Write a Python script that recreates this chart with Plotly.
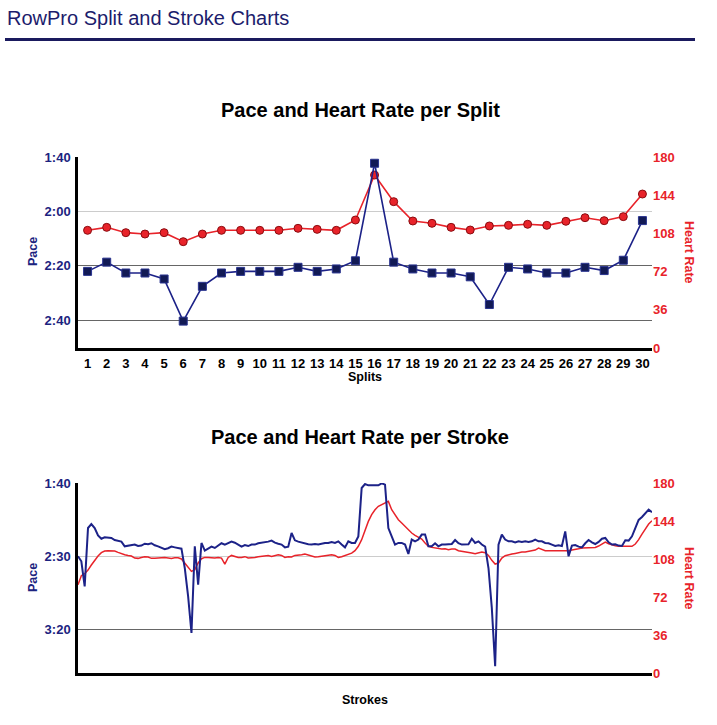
import plotly.graph_objects as go

# ---- per split data (pace in seconds / 500m, heart rate in bpm) ----
SPLITS = [1, 2, 3, 4, 5, 6, 7, 8, 9, 10, 11, 12, 13, 14, 15,
          16, 17, 18, 19, 20, 21, 22, 23, 24, 25, 26, 27, 28, 29, 30]
SPLIT_PACE = [142.1, 138.7, 142.7, 142.7, 144.9, 160.4, 147.6, 142.7, 142.1, 142.1,
              142.1, 140.6, 142.1, 141.2, 138.2, 102.3, 138.7, 141.2, 142.7, 142.7,
              144.1, 154.3, 140.6, 141.2, 142.7, 142.7, 140.6, 141.8, 138.0, 123.4]
SPLIT_HR = [110.9, 113.7, 108.7, 107.4, 108.7, 100.2, 107.4, 110.9, 110.9, 110.9,
            110.9, 112.8, 111.8, 110.9, 120.6, 163.0, 137.9, 119.7, 117.5, 113.7,
            111.2, 115.0, 115.6, 116.6, 115.6, 119.4, 122.8, 120.0, 123.8, 145.1]

# ---- per stroke data ----
STROKE_PACE = [
    150.0, 153.4, 170.5, 130.7, 128.0, 130.7, 135.7, 138.0, 137.0, 137.0,
    137.5, 138.9, 139.5, 140.0, 143.2, 142.7, 142.3, 142.0, 143.0, 142.7,
    141.4, 141.8, 141.1, 142.5, 143.2, 144.3, 145.2, 144.5, 143.4, 143.9,
    144.3, 144.8, 158.0, 177.3, 202.3, 143.2, 169.3, 140.9, 146.1, 144.8,
    143.4, 144.3, 142.5, 141.1, 142.0, 141.1, 140.0, 140.7, 141.8, 143.4,
    142.3, 143.0, 142.0, 142.0, 141.1, 140.9, 140.5, 140.0, 139.3, 140.7,
    141.4, 142.0, 143.9, 143.4, 134.1, 139.1, 140.0, 140.7, 141.6, 141.8,
    142.0, 141.6, 142.0, 141.4, 140.9, 140.9, 140.2, 140.9, 139.8, 142.0,
    143.9, 139.8, 140.9, 140.9, 136.4, 103.4, 100.7, 101.6, 101.6, 101.6,
    101.6, 100.2, 101.1, 130.7, 136.4, 142.0, 140.9, 140.9, 142.0, 148.4,
    138.6, 139.8, 138.6, 135.2, 135.2, 143.2, 143.2, 141.1, 143.2, 142.0,
    142.0, 142.0, 141.6, 138.9, 141.1, 142.0, 142.0, 141.8, 138.0, 140.9,
    139.8, 142.0, 143.4, 158.0, 185.2, 225.0, 142.0, 135.2, 138.6, 139.8,
    139.8, 140.5, 139.8, 140.2, 139.8, 140.2, 139.8, 138.6, 139.8, 139.8,
    140.9, 141.1, 142.0, 143.0, 142.5, 143.0, 133.0, 150.0, 142.7, 142.3,
    143.4, 143.9, 141.1, 138.9, 140.5, 141.6, 140.2, 138.0, 137.5, 140.5,
    142.0, 141.8, 142.7, 143.0, 139.1, 139.3, 136.4, 130.7, 125.2, 123.2,
    120.5, 118.2, 120.0,
]
STROKE_HR = [
    83.6, 92.2, 94.1, 97.5, 102.3, 107.0, 110.8, 114.0, 115.5, 115.9,
    115.9, 115.5, 114.3, 113.0, 112.1, 111.4, 110.8, 108.9, 108.6, 109.5,
    110.2, 109.9, 108.6, 108.6, 109.2, 109.2, 109.5, 109.2, 108.6, 109.2,
    109.2, 108.0, 104.2, 100.7, 96.3, 97.9, 104.2, 108.3, 109.5, 109.5,
    108.9, 108.9, 109.5, 108.9, 103.2, 109.5, 111.4, 110.5, 109.5, 109.5,
    110.2, 108.9, 108.9, 109.5, 110.2, 110.5, 110.5, 111.4, 110.5, 111.4,
    112.1, 111.4, 109.5, 110.2, 109.9, 111.4, 112.1, 112.1, 112.7, 111.7,
    110.5, 109.9, 110.2, 110.5, 110.8, 111.4, 112.1, 111.4, 109.5, 110.2,
    111.4, 112.7, 113.6, 115.9, 120.0, 126.3, 135.7, 143.6, 150.0, 154.7,
    157.9, 159.4, 161.0, 162.6, 154.7, 149.3, 145.2, 142.1, 138.9, 135.7,
    132.6, 130.4, 128.5, 126.9, 123.1, 120.0, 119.0, 118.4, 117.7, 117.4,
    117.7, 116.8, 117.4, 117.4, 115.9, 115.2, 114.6, 113.6, 113.6, 113.0,
    113.6, 114.6, 114.0, 111.4, 106.7, 103.2, 104.2, 108.9, 111.1, 112.1,
    112.7, 113.3, 114.0, 114.6, 114.6, 115.2, 115.9, 116.5, 118.4, 116.8,
    115.9, 115.9, 115.9, 115.2, 115.2, 115.9, 115.9, 115.9, 116.5, 116.8,
    117.7, 118.4, 118.4, 118.4, 118.4, 119.0, 120.3, 122.2, 124.1, 122.5,
    121.2, 120.6, 120.0, 120.0, 120.0, 120.0, 120.0, 122.2, 126.3, 131.6,
    136.4, 141.1, 144.3,
]

PACE_TICKS_TOP = [100, 120, 140, 160]
PACE_LABELS_TOP = ["1:40", "2:00", "2:20", "2:40"]
PACE_TICKS_BOTTOM = [100, 150, 200]
PACE_LABELS_BOTTOM = ["1:40", "2:30", "3:20"]
HR_TICKS = [0, 36, 72, 108, 144, 180]

W, H = 717, 725
FONT = "Liberation Sans, Arial, Helvetica, sans-serif"
NAVY = "#1c2380"
RED = "#e8232a"
BLUE_LINE = "#1c2288"
LIGHT_GRID = "#cccccc"
DARK_GRID = "#666666"


def px_x(v):
    return v / W


def px_y(v):
    return 1 - v / H


X_DOM = [px_x(78), px_x(652)]
TOP_DOM = [px_y(348), px_y(157)]
BOT_DOM = [px_y(673), px_y(483)]

fig = go.Figure()

# empty traces so the gridline-only axes get drawn
for xa, ya in [("x", "y3"), ("x", "y7"), ("x2", "y6"), ("x2", "y8")]:
    fig.add_trace(go.Scatter(x=[], y=[], xaxis=xa, yaxis=ya,
                             showlegend=False, hoverinfo="skip"))

# top chart
fig.add_trace(go.Scatter(x=SPLITS, y=SPLIT_HR, xaxis="x", yaxis="y",
                         mode="lines+markers", name="Heart Rate",
                         line=dict(color=RED, width=1.6),
                         marker=dict(symbol="circle", size=8, color=RED,
                                     line=dict(color="#8a0c10", width=1))))
fig.add_trace(go.Scatter(x=SPLITS, y=SPLIT_PACE, xaxis="x", yaxis="y2",
                         mode="lines+markers", name="Pace",
                         line=dict(color=BLUE_LINE, width=1.6),
                         marker=dict(symbol="square", size=8, color="#121a55",
                                     line=dict(color="#2a3490", width=1))))

# bottom chart
stroke_idx = list(range(len(STROKE_PACE)))
fig.add_trace(go.Scatter(x=stroke_idx, y=STROKE_HR, xaxis="x2", yaxis="y4",
                         mode="lines", name="Heart Rate",
                         line=dict(color=RED, width=1.5)))
fig.add_trace(go.Scatter(x=stroke_idx, y=STROKE_PACE, xaxis="x2", yaxis="y5",
                         mode="lines", name="Pace",
                         line=dict(color=BLUE_LINE, width=2)))

tick_bold = dict(family=FONT, size=13, weight="bold")
hidden_tick = dict(ticks="outside", ticklen=2, tickcolor="rgba(0,0,0,0)")


def grid_axis(dom, base, rng, vals, color):
    # overlay axis that only draws gridlines
    return dict(domain=dom, anchor=base[0], overlaying=base[1], side="left",
                range=rng, tickvals=vals, showticklabels=False,
                showgrid=True, gridcolor=color, gridwidth=1,
                zeroline=False, showline=False, ticks="")


fig.update_layout(
    width=W, height=H, autosize=False,
    margin=dict(l=0, r=0, t=0, b=0, autoexpand=False),
    paper_bgcolor="white", plot_bgcolor="white",
    showlegend=False,
    font=dict(family=FONT),
    xaxis=dict(domain=X_DOM, anchor="y", range=[0.5, 30.5],
               tickvals=SPLITS, ticktext=[str(s) for s in SPLITS],
               tickfont=dict(tick_bold, color="black"),
               showgrid=False, zeroline=False,
               showline=True, linecolor="black", linewidth=2.5,
               ticks="outside", ticklen=2, tickcolor="rgba(0,0,0,0)"),
    yaxis=dict(domain=TOP_DOM, anchor="x", side="right", range=[0, 180],
               tickvals=HR_TICKS, tickfont=dict(tick_bold, color=RED),
               showgrid=False, zeroline=False, showline=False, ticks=""),
    yaxis2=dict(domain=TOP_DOM, anchor="x", overlaying="y", side="left",
                range=[170.3, 100], tickvals=PACE_TICKS_TOP, ticktext=PACE_LABELS_TOP,
                tickfont=dict(tick_bold, color=NAVY),
                showgrid=False, zeroline=False,
                showline=True, linecolor="black", linewidth=2.5, **hidden_tick),
    yaxis3=grid_axis(TOP_DOM, ("x", "y"), [170.3, 100], PACE_TICKS_TOP[:2], LIGHT_GRID),
    yaxis7=grid_axis(TOP_DOM, ("x", "y"), [170.3, 100], PACE_TICKS_TOP[2:], DARK_GRID),
    xaxis2=dict(domain=X_DOM, anchor="y4", range=[0, len(STROKE_PACE) - 1],
                showticklabels=False, showgrid=False, zeroline=False,
                showline=True, linecolor="black", linewidth=2.5, ticks=""),
    yaxis4=dict(domain=BOT_DOM, anchor="x2", side="right", range=[0, 180],
                tickvals=HR_TICKS, tickfont=dict(tick_bold, color=RED),
                showgrid=False, zeroline=False, showline=False, ticks=""),
    yaxis5=dict(domain=BOT_DOM, anchor="x2", overlaying="y4", side="left",
                range=[229.6, 100], tickvals=PACE_TICKS_BOTTOM, ticktext=PACE_LABELS_BOTTOM,
                tickfont=dict(tick_bold, color=NAVY),
                showgrid=False, zeroline=False,
                showline=True, linecolor="black", linewidth=2.5, **hidden_tick),
    yaxis6=grid_axis(BOT_DOM, ("x2", "y4"), [229.6, 100], PACE_TICKS_BOTTOM[:2], LIGHT_GRID),
    yaxis8=grid_axis(BOT_DOM, ("x2", "y4"), [229.6, 100], PACE_TICKS_BOTTOM[2:], DARK_GRID),
)

label_font = dict(family=FONT, size=12.5, weight="bold")
annotations = [
    dict(text="RowPro Split and Stroke Charts", x=px_x(5), y=px_y(18),
         xanchor="left", yanchor="middle",
         font=dict(family=FONT, size=20, color="#1c1c6c")),
    dict(text="<b>Pace and Heart Rate per Split</b>", x=px_x(360), y=px_y(110),
         font=dict(family=FONT, size=20, color="black")),
    dict(text="<b>Pace and Heart Rate per Stroke</b>", x=px_x(360), y=px_y(437),
         font=dict(family=FONT, size=20, color="black")),
    dict(text="Pace", x=px_x(33), y=px_y(252), textangle=-90,
         font=dict(label_font, color=NAVY)),
    dict(text="Heart Rate", x=px_x(689), y=px_y(252), textangle=90,
         font=dict(label_font, color=RED)),
    dict(text="Splits", x=px_x(365), y=px_y(377),
         font=dict(label_font, color="black")),
    dict(text="Pace", x=px_x(33), y=px_y(578), textangle=-90,
         font=dict(label_font, color=NAVY)),
    dict(text="Heart Rate", x=px_x(689), y=px_y(578), textangle=90,
         font=dict(label_font, color=RED)),
    dict(text="Strokes", x=px_x(365), y=px_y(700),
         font=dict(label_font, color="black")),
]
for a in annotations:
    a.update(xref="paper", yref="paper", showarrow=False)
    a.setdefault("xanchor", "center")
    a.setdefault("yanchor", "middle")
fig.update_layout(annotations=annotations)

# header rule
fig.add_shape(type="line", xref="paper", yref="paper",
              x0=px_x(5), x1=px_x(695), y0=px_y(39.5), y1=px_y(39.5),
              line=dict(color="#1a1a5e", width=3))

# the page body has a default margin; drop it so the figure sits at the window origin
fig.write_html("out.html", config={"displayModeBar": False},
               post_script="document.body.style.margin = '0';")
